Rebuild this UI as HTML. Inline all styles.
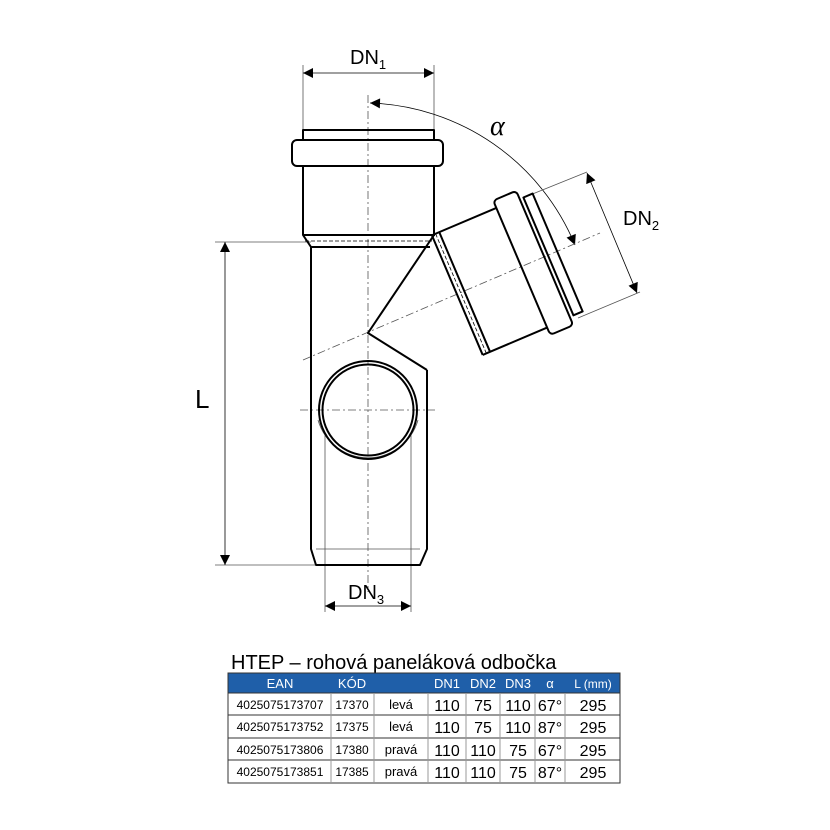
<!DOCTYPE html>
<html><head><meta charset="utf-8"><style>
body{margin:0;background:#fff;}
svg{display:block;font-family:"Liberation Sans",sans-serif;}
</style></head><body>
<svg width="830" height="830" viewBox="0 0 830 830" xmlns="http://www.w3.org/2000/svg">
<defs>
<marker id="ar" viewBox="0 0 10 10" refX="10" refY="5" markerWidth="12" markerHeight="10" markerUnits="userSpaceOnUse" orient="auto-start-reverse"><path d="M0,0 L10,5 L0,10 z" fill="#000"/></marker>
</defs>
<g fill="none" stroke="#555" stroke-width="0.8">
<line x1="303" y1="65" x2="303" y2="130"/>
<line x1="434" y1="65" x2="434" y2="130"/>
<line x1="303" y1="73" x2="434" y2="73" stroke="#000" marker-start="url(#ar)" marker-end="url(#ar)"/>
<line x1="215" y1="242" x2="311" y2="242"/>
<line x1="215" y1="565" x2="316" y2="565"/>
<line x1="225" y1="242" x2="225" y2="565" stroke="#000" marker-start="url(#ar)" marker-end="url(#ar)"/>
<line x1="325" y1="435" x2="325" y2="612"/>
<line x1="411" y1="435" x2="411" y2="612"/>
<line x1="325" y1="606" x2="411" y2="606" stroke="#000" marker-start="url(#ar)" marker-end="url(#ar)"/>
<path d="M370,103 A230,230 0 0 1 575,245" stroke="#000" marker-start="url(#ar)" marker-end="url(#ar)"/>
<line x1="530" y1="195" x2="587" y2="172"/>
<line x1="578" y1="318" x2="640" y2="292"/>
<line x1="587" y1="173" x2="637" y2="293" stroke="#000" marker-start="url(#ar)" marker-end="url(#ar)"/>
<line x1="368" y1="95" x2="368" y2="592" stroke-dasharray="8,3,2,3"/>
<line x1="303" y1="360" x2="600" y2="233" stroke-dasharray="8,3,2,3"/>
<line x1="300" y1="410" x2="435" y2="410" stroke-dasharray="8,3,2,3"/>
<path d="M318,420 A52,52 0 0 0 418,420"/>
<line x1="316" y1="549" x2="420" y2="549"/>
</g>
<g fill="none" stroke="#000" stroke-width="2" stroke-linejoin="round">
<rect x="303" y="130" width="131" height="10"/>
<rect x="292" y="140" width="151" height="26" rx="5"/>
<path d="M303,166 L303,235 L311,247 L311,549 L316,565 L420,565 L427,549 L427,370"/>
<path d="M434,166 L434,236"/>
<line x1="303" y1="235" x2="434" y2="235"/>
<line x1="311" y1="247" x2="430" y2="247"/>
<line x1="305" y1="241" x2="432" y2="241" stroke-width="0.8" stroke-dasharray="4,2"/>
<path d="M434,235 L368,333 L427,370"/>
<g transform="rotate(-23 368 333)">
<path d="M465,268 L535,268 M465,398 L535,398"/>
<path d="M465,268 L465,398 M473,268 L473,398"/>
<line x1="469" y1="268" x2="469" y2="398" stroke-width="0.8" stroke-dasharray="4,2"/>
<rect x="535" y="260" width="25" height="146" rx="4"/>
<rect x="564" y="269" width="10" height="128"/>
</g>
<circle cx="368" cy="410" r="49"/>
<circle cx="368" cy="410" r="45.5"/>
</g>
<g font-size="20" fill="#000">
<text x="350" y="64">DN<tspan font-size="13" dy="5">1</tspan></text>
<text x="490" y="135" font-family="Liberation Serif,serif" font-style="italic" font-size="28">α</text>
<text x="623" y="225">DN<tspan font-size="13" dy="5">2</tspan></text>
<text x="195" y="408" font-size="26">L</text>
<text x="348" y="599">DN<tspan font-size="13" dy="5">3</tspan></text>
<text x="231" y="669" font-size="20">HTEP – rohová paneláková odbočka</text>
</g>
<rect x="228" y="673" width="392" height="20" fill="#1f5fa9"/>
<g font-size="13" fill="#fff" text-anchor="middle">
<text x="280" y="688">EAN</text><text x="352" y="688">KÓD</text>
<text x="447" y="688">DN1</text><text x="483" y="688">DN2</text><text x="518" y="688">DN3</text>
<text x="550" y="688">α</text><text x="593" y="688" font-size="12">L (mm)</text>
</g>
<g stroke="#333" stroke-width="1" fill="none">
<rect x="228" y="673" width="392" height="110"/>
<line x1="228" y1="693" x2="620" y2="693"/>
<line x1="228" y1="715" x2="620" y2="715"/>
<line x1="228" y1="738" x2="620" y2="738"/>
<line x1="228" y1="760" x2="620" y2="760"/>
<g stroke="#999"><line x1="331" y1="693" x2="331" y2="783"/><line x1="374" y1="693" x2="374" y2="783"/>
<line x1="428" y1="693" x2="428" y2="783"/><line x1="466" y1="693" x2="466" y2="783"/>
<line x1="500" y1="693" x2="500" y2="783"/><line x1="535" y1="693" x2="535" y2="783"/>
<line x1="565" y1="693" x2="565" y2="783"/></g>
</g>
<g fill="#000" text-anchor="middle">
<g font-size="12"><text x="280" y="709">4025075173707</text><text x="280" y="731">4025075173752</text><text x="280" y="754">4025075173806</text><text x="280" y="776">4025075173851</text>
<text x="352" y="709">17370</text><text x="352" y="731">17375</text><text x="352" y="754">17380</text><text x="352" y="776">17385</text>
<text x="401" y="709" font-size="13">levá</text><text x="401" y="731" font-size="13">levá</text><text x="401" y="754" font-size="13">pravá</text><text x="401" y="776" font-size="13">pravá</text></g>
<g font-size="16">
<text x="447" y="711">110</text><text x="447" y="733">110</text><text x="447" y="756">110</text><text x="447" y="778">110</text>
<text x="483" y="711">75</text><text x="483" y="733">75</text><text x="483" y="756">110</text><text x="483" y="778">110</text>
<text x="518" y="711">110</text><text x="518" y="733">110</text><text x="518" y="756">75</text><text x="518" y="778">75</text>
<text x="550" y="711">67°</text><text x="550" y="733">87°</text><text x="550" y="756">67°</text><text x="550" y="778">87°</text>
<text x="593" y="711">295</text><text x="593" y="733">295</text><text x="593" y="756">295</text><text x="593" y="778">295</text>
</g></g>
</svg>
</body></html>
